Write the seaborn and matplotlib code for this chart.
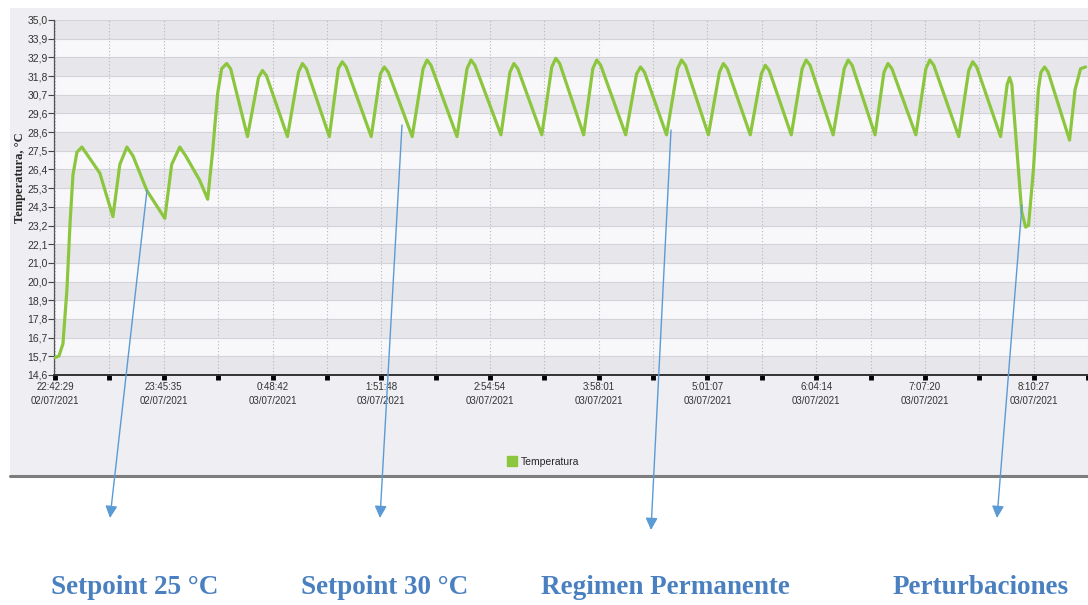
import numpy as np
import pandas as pd
import matplotlib
matplotlib.use("Agg")
import matplotlib.pyplot as plt
from matplotlib.patches import Rectangle, FancyArrowPatch
from matplotlib.lines import Line2D
import seaborn as sns

# minutos desde 22:42:29 -> temperatura (°C), leidos del registro
# arranque y setpoint 25 °C
t_sp25 = [0, 2.3, 4.6, 6.9, 8.7, 10.4, 12.7, 15.6, 19.1, 26.0, 33.6, 37.6, 41.7, 45.2,
          53.3, 63.7, 67.7, 72.4, 75.8, 83.9, 88.6]
temp_sp25 = [15.6, 15.7, 16.4, 19.5, 23.3, 26.1, 27.4, 27.7, 27.2, 26.2, 23.7, 26.7, 27.7, 27.2,
             25.2, 23.6, 26.7, 27.7, 27.2, 25.8, 24.7]

# cambio a setpoint 30 °C
t_step = [91.5, 94.4, 96.7, 99.6, 101.9]
temp_step = [27.5, 30.8, 32.2, 32.5, 32.2]

# regimen permanente: valle, codo de subida, pico, hombro de bajada
t_valle = [111.7, 134.9, 159.2, 183.5, 207.3, 233.3, 258.8, 282.5, 306.8, 331.2,
           354.9, 379.2, 403.5, 427.3, 451.6, 475.9, 499.6, 524.5, 548.8]
temp_valle = [28.3, 28.3, 28.3, 28.3, 28.3, 28.3, 28.4, 28.4, 28.4, 28.4,
              28.4, 28.4, 28.4, 28.4, 28.4, 28.4, 28.4, 28.3, 28.3]
t_codo = [118.1, 141.3, 164.4, 188.8, 213.6, 239.1, 264.0, 288.3, 312.1, 337.5,
          361.3, 385.6, 409.9, 433.6, 458.0, 481.1, 505.4, 530.3, 552.6]
temp_codo = [31.7, 32.0, 32.2, 31.9, 32.2, 32.2, 32.0, 32.3, 32.2, 31.9,
             32.2, 32.0, 31.9, 32.2, 32.2, 32.0, 32.2, 32.1, 31.3]
t_pico = [120.4, 143.6, 166.7, 191.1, 215.9, 241.4, 266.3, 290.6, 314.4, 339.8,
          363.6, 387.9, 412.2, 435.9, 460.3, 483.4, 507.7, 532.6, 554.0]
temp_pico = [32.1, 32.5, 32.6, 32.3, 32.7, 32.7, 32.5, 32.8, 32.7, 32.3,
             32.7, 32.5, 32.4, 32.7, 32.7, 32.5, 32.7, 32.6, 31.7]
t_hombro = [122.7, 145.9, 169.0, 193.4, 218.2, 243.7, 268.6, 292.9, 316.7, 342.1,
            365.9, 390.2, 414.5, 438.2, 462.6, 485.7, 510.0, 534.9, 555.3]
temp_hombro = [31.8, 32.2, 32.3, 32.0, 32.4, 32.4, 32.2, 32.5, 32.4, 32.0,
               32.4, 32.2, 32.1, 32.4, 32.4, 32.2, 32.4, 32.3, 31.3]

# perturbacion
t_pert = [561.0, 563.3, 565.0, 567.9, 570.7, 572.2, 574.3, 576.4, 588.8, 592.0, 595.2, 598.1]
temp_pert = [24.0, 23.1, 23.2, 26.5, 31.0, 32.0, 32.3, 32.0, 28.1, 31.0, 32.2, 32.3]

hora_labels = ["22:42:29", "23:45:35", "0:48:42", "1:51:48", "2:54:54",
               "3:58:01", "5:01:07", "6:04:14", "7:07:20", "8:10:27"]
fecha_labels = ["02/07/2021", "02/07/2021"] + ["03/07/2021"] * 8
y_labels = ["14,6", "15,7", "16,7", "17,8", "18,9", "20,0", "21,0", "22,1", "23,2", "24,3",
            "25,3", "26,4", "27,5", "28,6", "29,6", "30,7", "31,8", "32,9", "33,9", "35,0"]

notas = ["Setpoint 25 °C", "Setpoint 30 °C", "Regimen Permanente", "Perturbaciones"]

# armar la serie
t_rp, temp_rp = [], []
for i in range(len(t_valle)):
    t_rp += [t_valle[i], t_codo[i], t_pico[i], t_hombro[i]]
    temp_rp += [temp_valle[i], temp_codo[i], temp_pico[i], temp_hombro[i]]
df = pd.DataFrame({
    "min": t_sp25 + t_step + t_rp + t_pert,
    "temp": temp_sp25 + temp_step + temp_rp + temp_pert,
})

sns.set_theme(style="white")
plt.rcParams["font.family"] = ["Liberation Sans", "DejaVu Sans"]

W, H = 1088, 605
fig = plt.figure(figsize=(W / 100, H / 100), dpi=100)
fig.patch.set_facecolor("white")


def fx(px):
    return px / W


def fy(py):
    return 1 - py / H


# fondo del panel
fig.patches.append(Rectangle((fx(10), fy(476)), 1 - fx(10), fy(8) - fy(476),
                             transform=fig.transFigure, facecolor="#EFEFF3",
                             edgecolor="none", zorder=-5))
fig.add_artist(Line2D([fx(10), 1], [fy(476), fy(476)], color="#7d7d7d", lw=2.2))

ax = fig.add_axes([fx(54), fy(375), 1 - fx(54), (375 - 20) / H])

yt = np.linspace(14.6, 35.0, 20)
for k in range(19):
    ax.axhspan(yt[k], yt[k + 1], color="#E7E7EB" if k % 2 == 0 else "#F8F8FA", zorder=0, lw=0)

sns.lineplot(data=df, x="min", y="temp", ax=ax, color="#8CC63F", lw=2.3,
             estimator=None, legend=False, zorder=3)
ax.lines[-1].set_solid_joinstyle("round")

periodo = 63.106
ax.set_xlim(-0.6, 598.1)
ax.set_ylim(14.6, 35.0)
ax.set_xticks(np.arange(10) * periodo)
ax.set_xticks(np.arange(10) * periodo + periodo / 2, minor=True)
ax.set_xticklabels([h + "\n" + f for h, f in zip(hora_labels, fecha_labels)],
                   fontsize=7, color="#333333", linespacing=1.55)
ax.set_yticks(yt)
ax.set_yticklabels(y_labels, fontsize=7.5, color="#333333")
ax.tick_params(axis="x", which="both", direction="out", length=3.5, width=3.5,
               color="black", pad=1.5, bottom=True)
ax.tick_params(axis="y", direction="out", length=4, width=0.8, color="#444444", pad=0.5, left=True)
ax.set_xlabel("")
ax.set_ylabel("")

ax.grid(axis="y", color="#D3D3D9", lw=0.8, ls="-")
ax.grid(axis="x", which="both", color="#B5B5BD", lw=0.8, ls=(0, (1, 2)))
ax.set_axisbelow(True)
for s in ["top", "right"]:
    ax.spines[s].set_visible(False)
ax.spines["bottom"].set_color("#333333")
ax.spines["bottom"].set_linewidth(1.4)
ax.spines["left"].set_color("#555555")
ax.spines["left"].set_linewidth(0.9)

fig.text(fx(20), fy(178), "Temperatura, °C", rotation=90, ha="center", va="center",
         fontsize=9, fontweight="bold", family=["Liberation Serif", "DejaVu Serif"])

ax.legend(handles=[Line2D([], [], marker="s", color="none", markerfacecolor="#8CC63F",
                          markeredgecolor="#8CC63F", markersize=7, label="Temperatura")],
          loc="center", bbox_to_anchor=(fx(543), fy(462)), bbox_transform=fig.transFigure,
          frameon=False, fontsize=7.5, handletextpad=0.3, handlelength=1)

# flechas y notas
flechas = [((147, 190), (110, 518)), ((402, 125), (380, 518)),
           ((671, 130), (651, 530)), ((1022, 205), (997, 518))]
for (sx, sy), (ex, ey) in flechas:
    fig.add_artist(FancyArrowPatch((fx(sx), fy(sy)), (fx(ex), fy(ey)),
                                   transform=fig.transFigure, arrowstyle="-|>",
                                   mutation_scale=18, color="#5B9BD5", lw=1.0,
                                   shrinkA=0, shrinkB=0, zorder=10))
for txt, cx in zip(notas, [135, 385, 665, 981]):
    fig.text(fx(cx), fy(588), txt, ha="center", va="center", fontsize=19.5,
             fontweight="bold", color="#4A80C0", family=["Liberation Serif", "DejaVu Serif"])

fig.savefig("out.png", dpi=100)
